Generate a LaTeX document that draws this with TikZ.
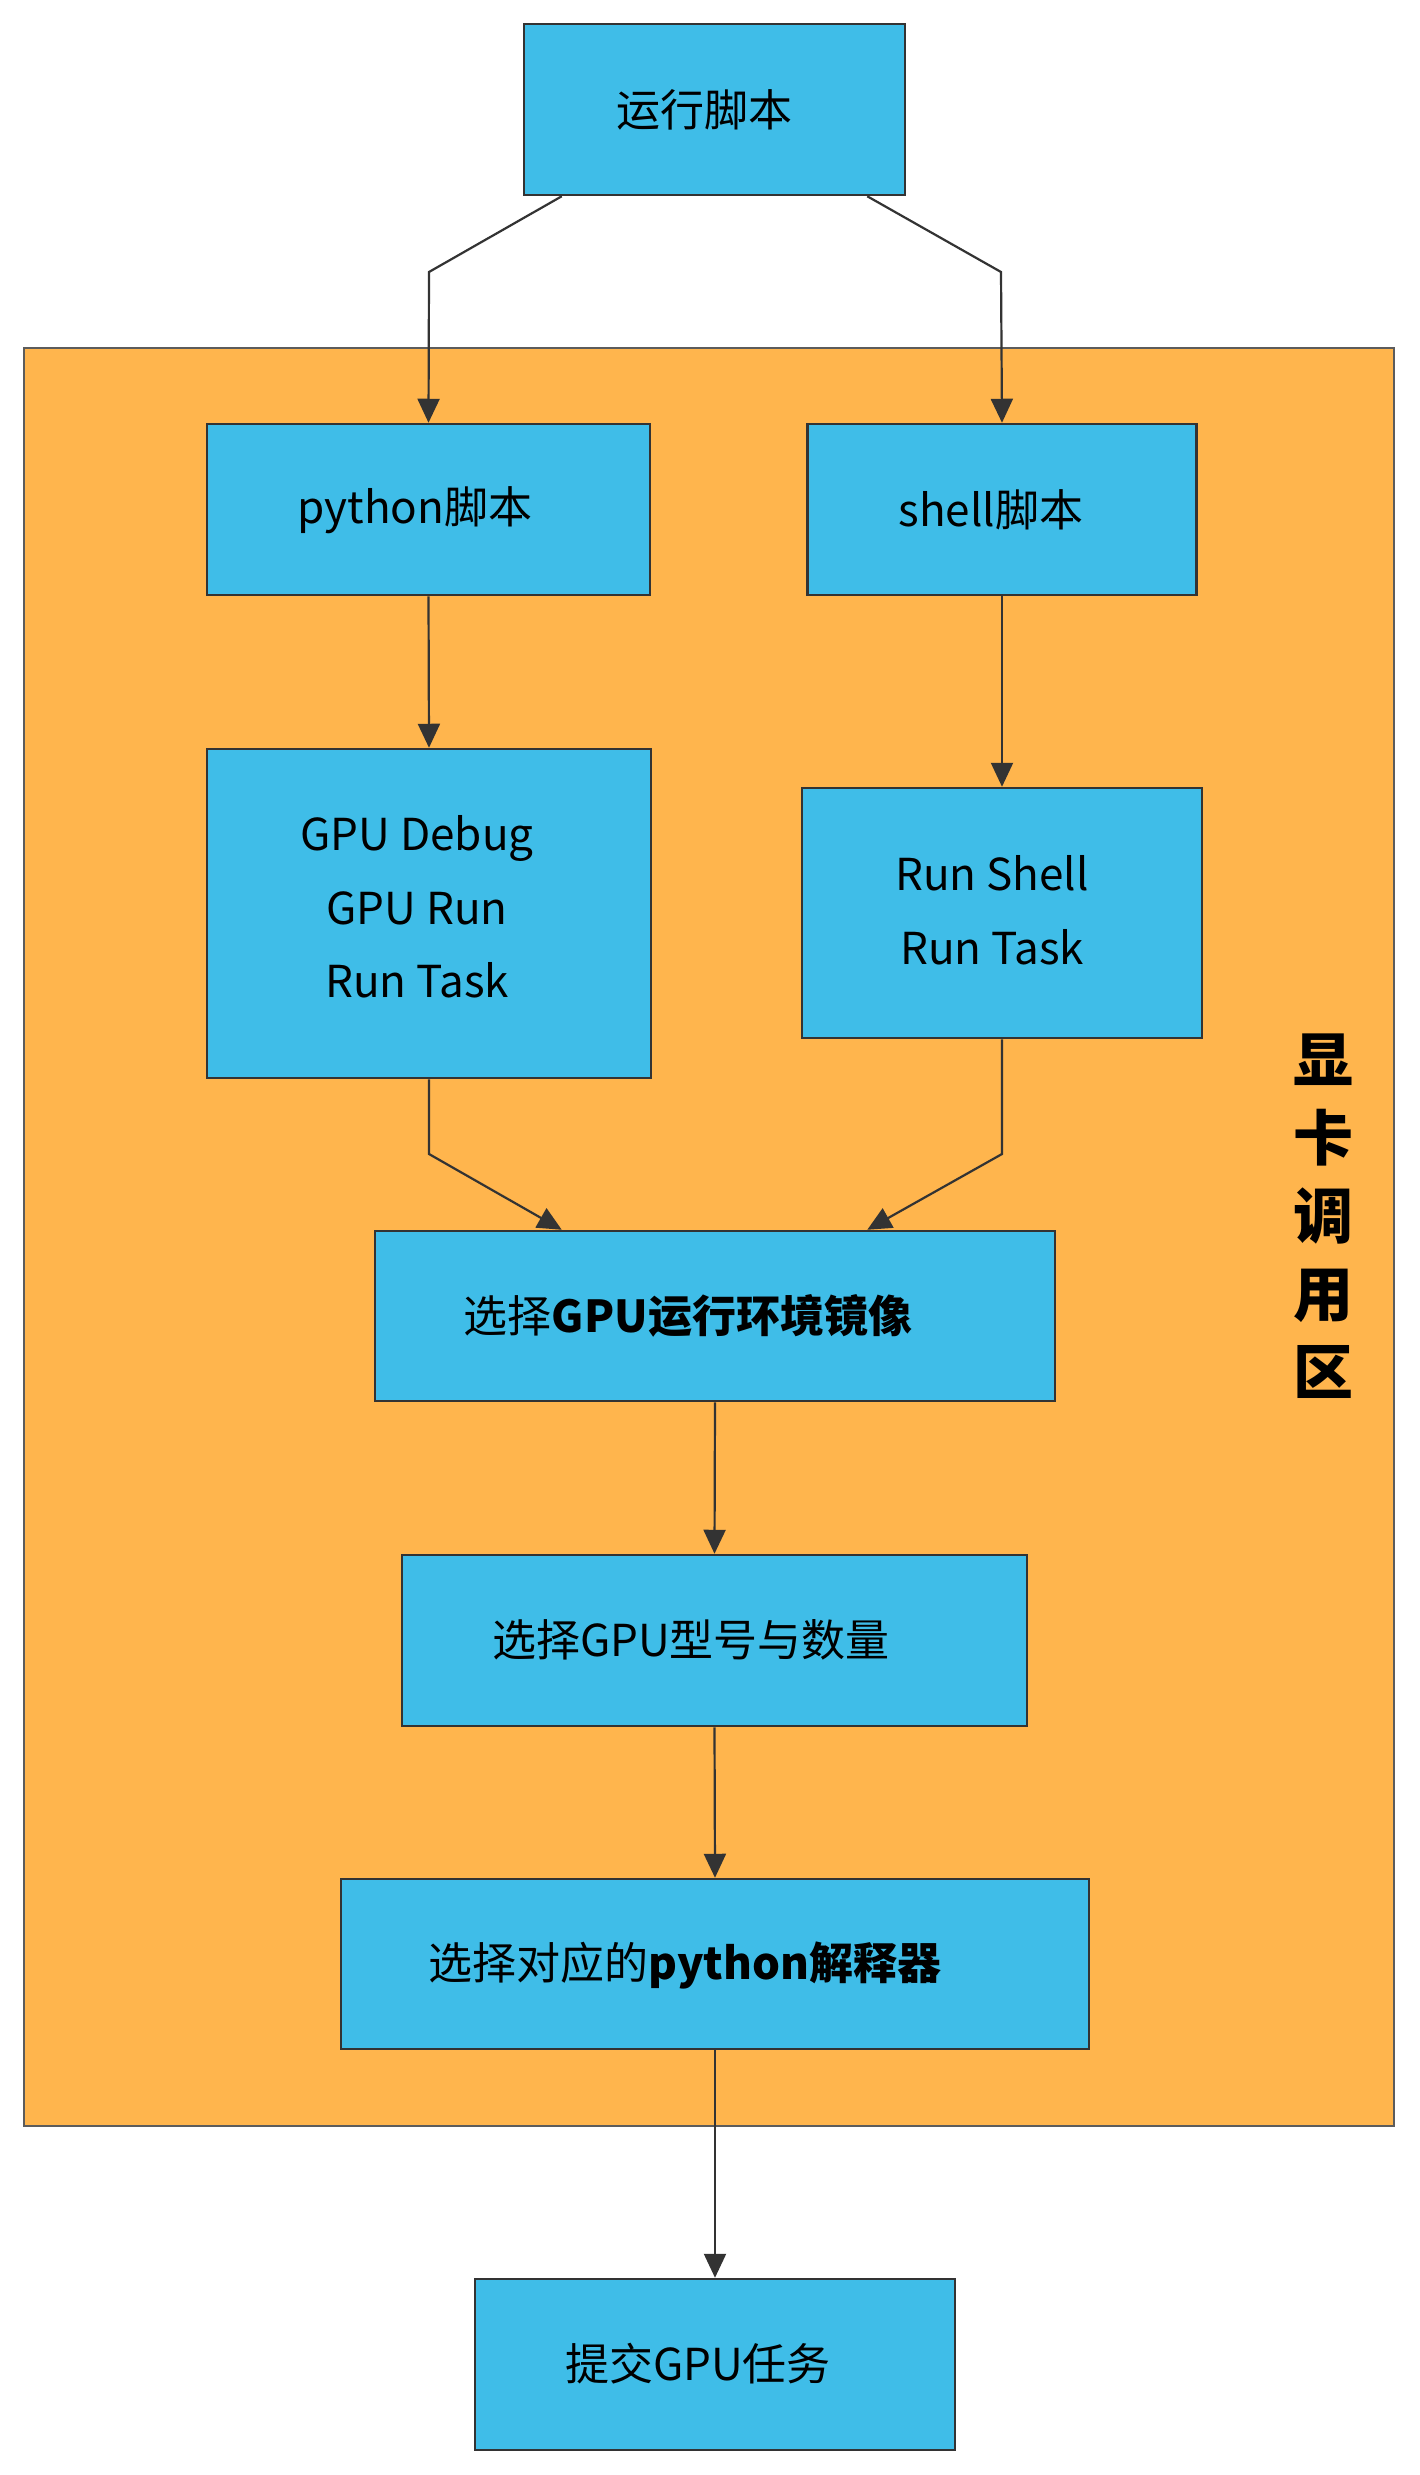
\documentclass[tikz,border=0pt]{standalone}
\usepackage{fontspec}
\setmainfont{Noto Sans CJK SC}
\usetikzlibrary{arrows.meta,calc}
\definecolor{boxblue}{HTML}{3FBDE8}
\definecolor{zoneorange}{HTML}{FFB54D}
\definecolor{edgegray}{HTML}{333333}
\tikzset{
  stepbox/.style={draw=edgegray, line width=2.5pt, fill=boxblue, inner sep=0pt, rectangle},
  lbl/.style={inner sep=0pt, font=\fontsize{44}{73.5}\selectfont, align=center},
  arr/.style={draw=edgegray, line width=2.2pt, -{Triangle[length=24pt,width=22pt]}},
}
\begin{document}
\begin{tikzpicture}[x=1pt,y=-1pt]
\useasboundingbox (0,0) rectangle (1420,2475);
\fill[white] (0,0) rectangle (1420,2475);

% zone
\node[draw=edgegray!80, line width=2pt, fill=zoneorange, inner sep=0pt,
      minimum width=1370pt, minimum height=1778pt] (zone) at (709,1236.5) {};
\node[inner sep=0pt, font=\fontsize{60}{78}\selectfont\bfseries, align=center] (zonelbl) at (1323,1216) {显\\卡\\调\\用\\区};

% boxes
\node[stepbox, minimum width=381pt, minimum height=171pt] (top) at (714.5,109.5) {};
\node[stepbox, minimum width=443pt, minimum height=171pt] (py) at (428.5,509.5) {};
\node[stepbox, minimum width=389pt, minimum height=171pt] (sh) at (1002,509.5) {};
\node[stepbox, minimum width=444pt, minimum height=329pt] (gd) at (429,913.5) {};
\node[stepbox, minimum width=400pt, minimum height=250pt] (rs) at (1002,913) {};
\node[stepbox, minimum width=680pt, minimum height=170pt] (env) at (715,1316) {};
\node[stepbox, minimum width=625pt, minimum height=171pt] (model) at (714.5,1640.5) {};
\node[stepbox, minimum width=748pt, minimum height=170pt] (interp) at (715,1964) {};
\node[stepbox, minimum width=480pt, minimum height=171pt] (submit) at (715,2364.5) {};

% labels
\node[lbl] (topt) at (704,110) {运行脚本};
\node[lbl] (pyt) at (415,510) {python脚本};
\node[lbl] (sht) at (991,510) {shell脚本};
\node[lbl] (gdt) at (417,907) {GPU Debug\\GPU Run\\Run Task};
\node[lbl] (rst) at (992,910.5) {Run Shell\\Run Task};
\node[lbl] (envt) at (688,1316) {选择\textbf{GPU运行环境镜像}};
\node[lbl] (modelt) at (691,1640) {选择GPU型号与数量};
\node[lbl] (interpt) at (685,1965) {选择对应的\textbf{python解释器}};
\node[lbl] (submitt) at (698,2364) {提交GPU任务};

% connectors
\coordinate (b1) at (429,272);
\coordinate (b2) at (1001,272);
\coordinate (b3) at (429,1154);
\coordinate (b4) at (1002,1154);
\draw[arr] ([xshift=39pt]top.south west) -- (b1) -- (py.north);
\draw[arr] ([xshift=-39pt]top.south east) -- (b2) -- (sh.north);
\draw[arr] (py.south) -- (gd.north);
\draw[arr] (sh.south) -- (rs.north);
\draw[arr] (gd.south) -- (b3) -- ([xshift=188pt]env.north west);
\draw[arr] (rs.south) -- (b4) -- ([xshift=-189pt]env.north east);
\draw[arr] (env.south) -- (model.north);
\draw[arr] (model.south) -- (interp.north);
\draw[arr] (interp.south) -- (submit.north);
\end{tikzpicture}
\end{document}
